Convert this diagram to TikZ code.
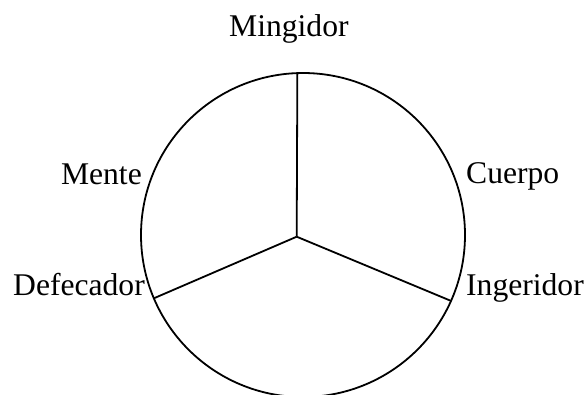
\documentclass[tikz,border=0pt]{standalone}
\usepackage{fontspec}
\setmainfont{Liberation Serif}
\begin{document}
\begin{tikzpicture}[x=1pt,y=-1pt,
  ring/.style={circle,draw,line width=1.8pt,minimum size=324pt,inner sep=0pt,outer sep=0pt},
  spoke/.style={line width=1.8pt},
  lbl/.style={inner sep=0pt,font=\fontsize{31.6}{36}\selectfont}]
\useasboundingbox (0,0) rectangle (586,394);
\begin{scope}
\clip (0,0) rectangle (586,394);
\node[ring] (ring) at (303,235) {};
\coordinate (hub) at (296.7,236.7);
\draw[spoke] (hub) -- (ring.92.2);
\draw[spoke] (hub) -- (ring.203.4);
\draw[spoke] (hub) -- (ring.336.4);
\end{scope}
\node[lbl,anchor=base west] (ming) at (229,36.7) {Mingidor};
\node[lbl,anchor=base east] (mente) at (142,184) {Mente};
\node[lbl,anchor=base east] (defe) at (145,295) {Defecador};
\node[lbl,anchor=base west] (cuer) at (466,183) {Cuerpo};
\node[lbl,anchor=base west] (inge) at (466,295) {Ingeridor};
\end{tikzpicture}
\end{document}
